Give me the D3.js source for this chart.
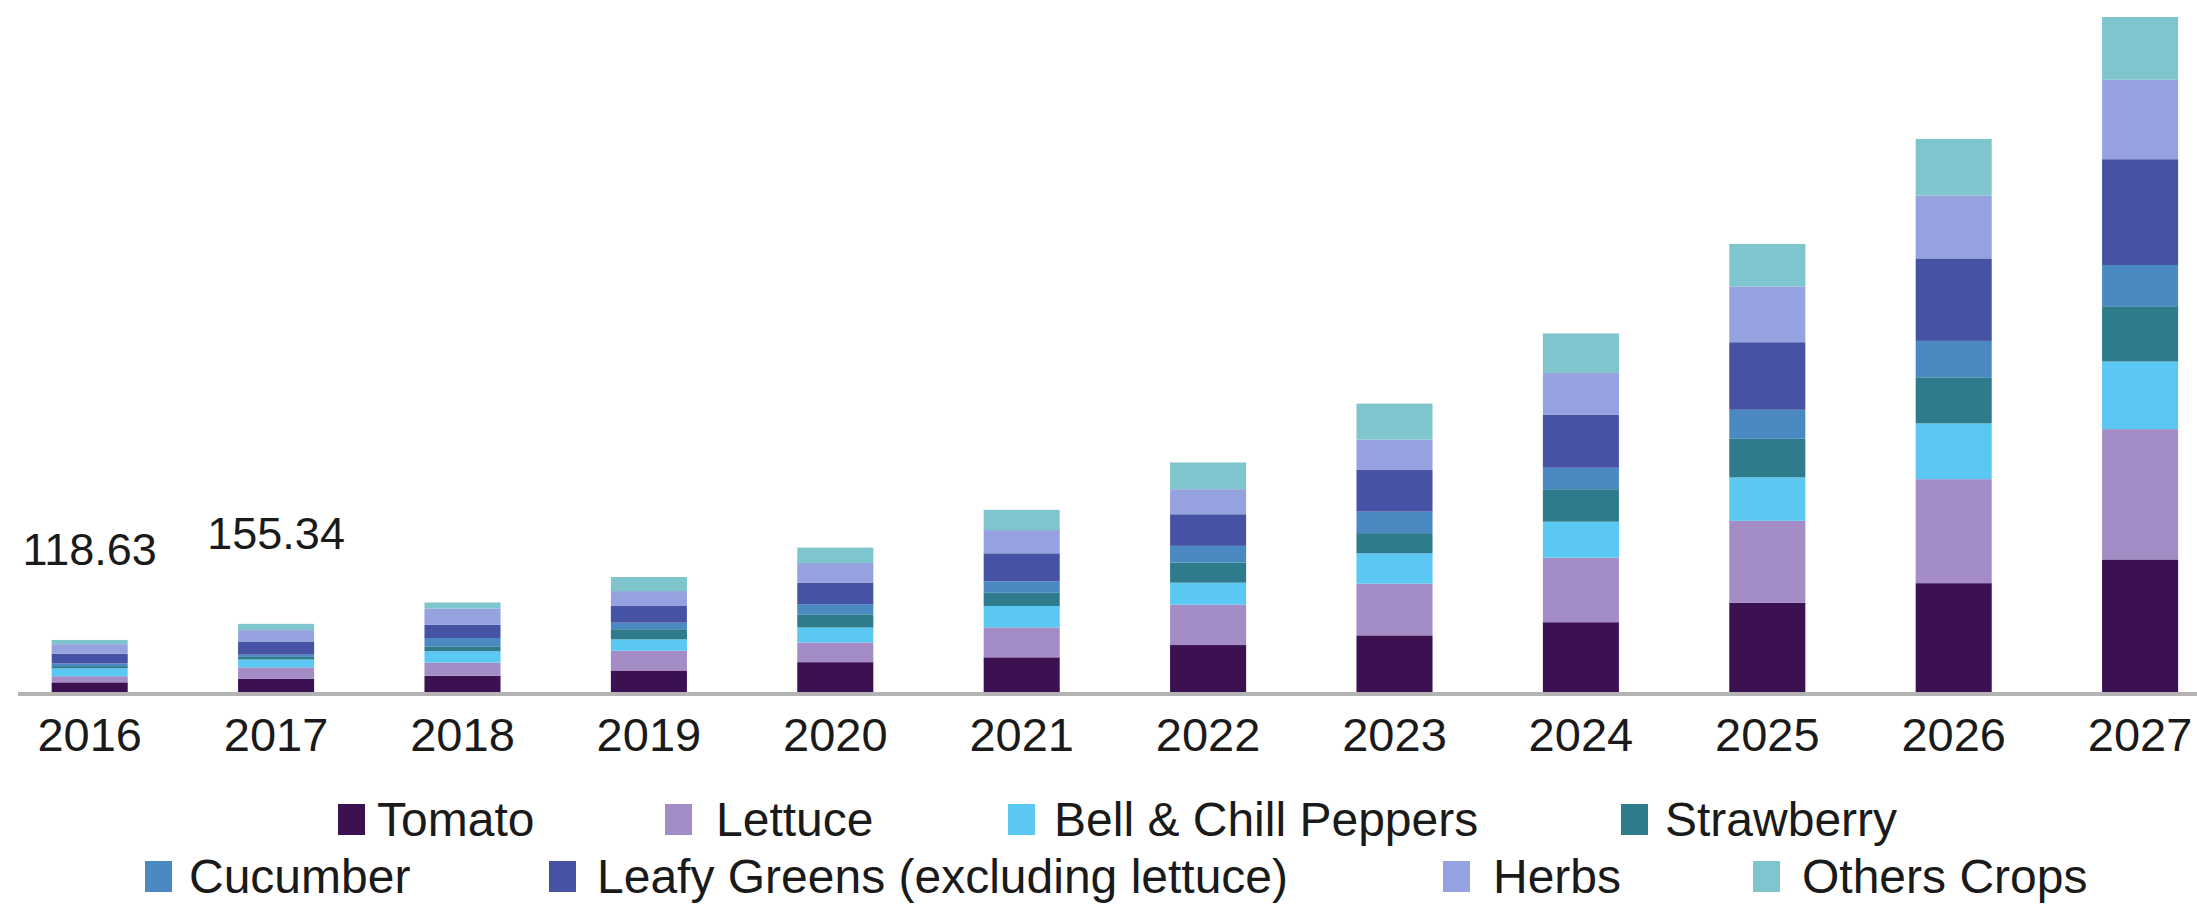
<!DOCTYPE html>
<html>
<head>
<meta charset="utf-8">
<script src="https://cdn.jsdelivr.net/npm/d3@7"></script>
<style>
  html, body { margin: 0; padding: 0; background: #ffffff; }
  svg { display: block; }
  text { font-family: "Liberation Sans", Arial, sans-serif; fill: #1a1a1a; }
</style>
</head>
<body>
<script>
// ---------- data ----------
const years = ["2016","2017","2018","2019","2020","2021","2022","2023","2024","2025","2026","2027"];
const seriesNames = ["Tomato","Lettuce","Bell & Chill Peppers","Strawberry","Cucumber","Leafy Greens (excluding lettuce)","Herbs","Others Crops"];
const tomato     = [22, 30, 37, 49, 68, 79, 107, 129, 159, 203, 248, 302];
const lettuce    = [14, 26, 30, 45, 45, 68,  92, 118, 147, 187, 237, 297];
const peppers    = [18, 18, 26, 26, 34, 49,  50,  69,  82,  99, 127, 154];
const strawberry = [ 5,  6, 11, 23, 30, 30,  46,  46,  74,  88, 105, 126];
const cucumber   = [ 6,  5, 19, 15, 23, 26,  38,  49,  49,  66,  83,  94];
const leafy      = [22, 30, 30, 38, 49, 64,  72,  95, 121, 154, 188, 241];
const herbs      = [22, 26, 37, 34, 45, 53,  57,  69,  95, 127, 143, 181];
const others     = [9.63, 14.34, 14, 32, 35, 46, 61, 82, 90, 97, 129, 143];
const labelYears = ["2016","2017"];
const labelTexts = ["118.63","155.34"];

const colors = ["#3b1152","#a48cc6","#5ac8f2","#2e7b8c","#4a89c2","#4653a5","#96a1df","#7fc5cd"];

// ---------- layout ----------
const W = 2197, H = 906;
const baseY = 692, topY = 17;
const svg = d3.select("body").append("svg").attr("width", W).attr("height", H);

const seriesArrays = [tomato, lettuce, peppers, strawberry, cucumber, leafy, herbs, others];
const table = years.map((y, i) => {
  const row = { year: y };
  seriesNames.forEach((n, k) => row[n] = seriesArrays[k][i]);
  return row;
});
const stack = d3.stack().keys(seriesNames)(table);
const totals = table.map(r => d3.sum(seriesNames, n => r[n]));

const x = d3.scaleBand().domain(years).range([-3.5, 2233.3]).paddingInner(0.592).paddingOuter(0.296);
const y = d3.scaleLinear().domain([0, d3.max(totals)]).range([baseY, topY]);
const color = d3.scaleOrdinal().domain(seriesNames).range(colors);

// bars
svg.append("g").selectAll("g").data(stack).join("g")
  .attr("fill", d => color(d.key))
  .selectAll("rect").data(d => d).join("rect")
  .attr("x", d => x(d.data.year))
  .attr("width", x.bandwidth())
  .attr("y", d => y(d[1]))
  .attr("height", d => y(d[0]) - y(d[1]));

// axis line
svg.append("line").attr("x1", 18).attr("x2", W).attr("y1", baseY + 2).attr("y2", baseY + 2)
  .attr("stroke", "#b4b4b4").attr("stroke-width", 4);

// x axis labels
const xAxis = d3.axisBottom(x).tickSize(0).tickPadding(0);
const gx = svg.append("g").attr("transform", `translate(0,${baseY})`).call(xAxis);
gx.select(".domain").remove();
gx.selectAll("text").attr("y", 59).attr("dy", 0)
  .style("font-size", "47px").style("font-family", "Liberation Sans, Arial, sans-serif").attr("fill", "#1a1a1a");

// value labels
svg.append("g").selectAll("text").data(labelYears).join("text")
  .attr("x", d => x(d) + x.bandwidth() / 2)
  .attr("y", (d, i) => y(totals[years.indexOf(d)]) - 75)
  .attr("text-anchor", "middle")
  .style("font-size", "45px")
  .text((d, i) => labelTexts[i]);

// legend
const legendSwatchX = [338, 665, 1008, 1621, 145, 549, 1443, 1753];
const legendTextX   = [377, 716, 1054, 1665, 189, 597, 1493, 1802];
const legendRowY    = [819, 819, 819, 819, 876, 876, 876, 876];
const lg = svg.append("g").selectAll("g").data(seriesNames).join("g")
  .attr("transform", (d, i) => `translate(0,${legendRowY[i]})`);
lg.append("rect").attr("x", (d, i) => legendSwatchX[i]).attr("y", -15).attr("width", 27).attr("height", 31)
  .attr("fill", d => color(d));
lg.append("text").attr("x", (d, i) => legendTextX[i]).attr("y", 0).attr("dy", "0.36em")
  .style("font-size", "48px").text(d => d);
</script>
</body>
</html>
